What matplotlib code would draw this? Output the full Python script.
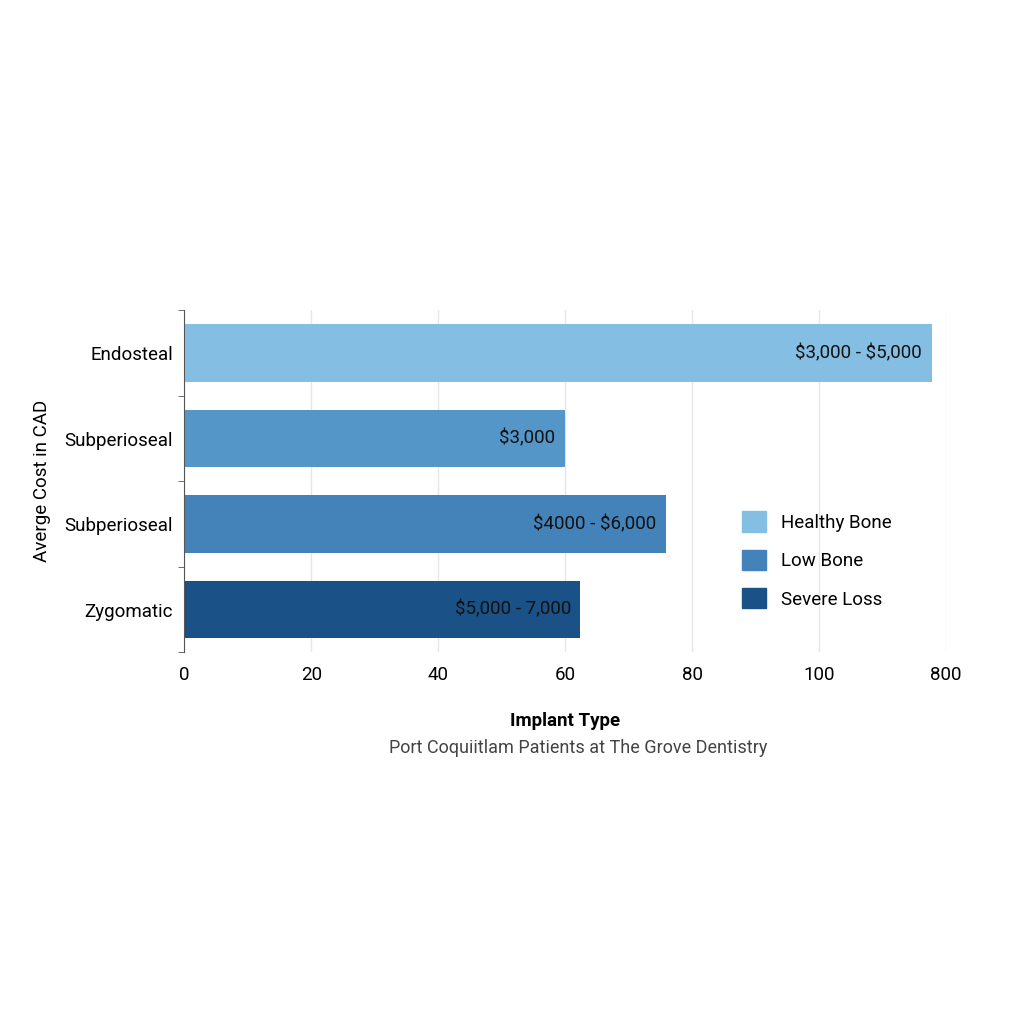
import matplotlib
matplotlib.use("Agg")
import matplotlib.pyplot as plt
from matplotlib.patches import Patch

categories = ["Endosteal", "Subperioseal", "Subperioseal", "Zygomatic"]
values = [117.7, 59.9, 75.8, 62.4]
labels = ["$3,000 - $5,000", "$3,000", "$4000 - $6,000", "$5,000 - 7,000"]
colors = ["#85BEE3", "#5596C8", "#4383BA", "#1A5186"]
xticks = [0, 20, 40, 60, 80, 100, 120]
xticklabels = ["0", "20", "40", "60", "80", "100", "800"]
legend_names = ["Healthy Bone", "Low Bone", "Severe Loss"]
legend_colors = ["#85BEE3", "#4383BA", "#1A5186"]

plt.rcParams['font.family'] = ['Roboto', 'DejaVu Sans']
plt.rcParams['text.parse_math'] = False
fig = plt.figure(figsize=(10.24, 10.24), dpi=100)
fig.patch.set_facecolor("white")
ax = fig.add_axes([0.18, 0.363, 0.744, 0.334])
y = list(range(len(categories)))
ax.barh(y, values, height=0.67, color=colors, zorder=2)
for yi, v, lab in zip(y, values, labels):
    ax.text(v - 1.5, yi, lab, ha="right", va="center", fontsize=13.5, color="#111111", zorder=3)
ax.set_ylim(3.5, -0.5)
ax.set_xlim(0, 120)
ax.set_yticks(y)
ax.set_yticklabels(categories, fontsize=13.5)
ax.set_yticks([-0.5, 0.5, 1.5, 2.5, 3.5], minor=True)
ax.tick_params(axis="y", which="major", length=0, pad=8)
ax.tick_params(axis="y", which="minor", length=4, color="#555555")
ax.set_xticks(xticks)
ax.set_xticklabels(xticklabels, fontsize=13.5)
ax.tick_params(axis="x", length=0, pad=10)
ax.grid(axis="x", color="#e6e6e6", lw=1, zorder=0)
for s in ["top", "right", "bottom"]:
    ax.spines[s].set_visible(False)
ax.spines["left"].set_color("#555555")
ax.set_xlabel("Implant Type", fontsize=13.5, fontweight="bold", labelpad=20)
ax.set_ylabel("Averge Cost in CAD", fontsize=13.5, labelpad=10)
fig.text(0.565, 1 - 748 / 1024, "Port Coquiitlam Patients at The Grove Dentistry",
         ha="center", va="center", fontsize=13, color="#444444")
handles = [Patch(color=c) for c in legend_colors]
ax.legend(handles, legend_names, loc="center left", bbox_to_anchor=(0.71, 0.27),
          frameon=False, fontsize=13.5, handlelength=1.3, handleheight=1.3, labelspacing=0.95)
fig.savefig("out.png", dpi=100)
